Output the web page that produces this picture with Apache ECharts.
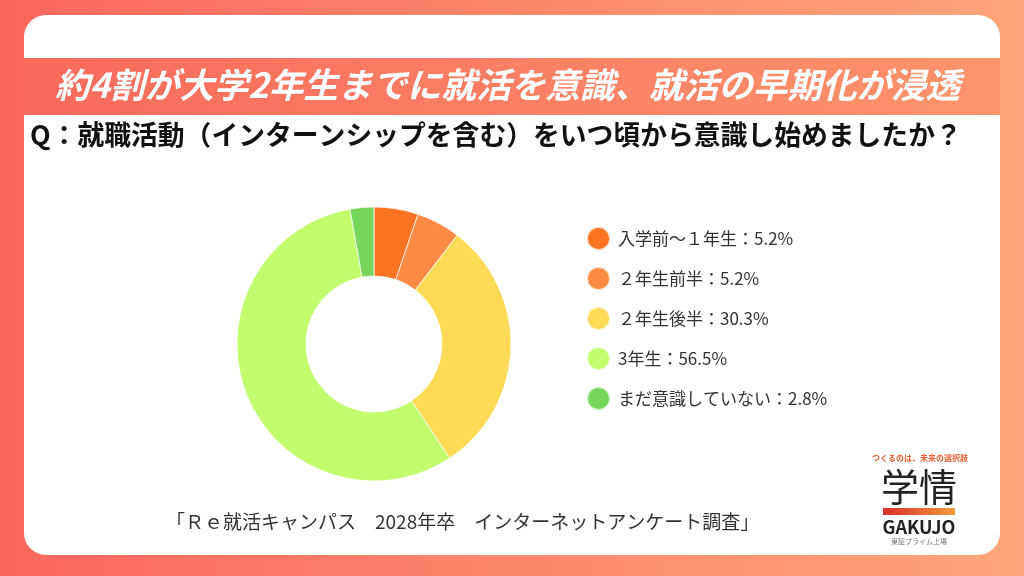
<!DOCTYPE html>
<html><head><meta charset="utf-8">
<script src="https://cdn.jsdelivr.net/npm/echarts@6/dist/echarts.min.js"></script>
<style>html,body{margin:0;padding:0;width:1024px;height:576px;overflow:hidden}#c{width:1024px;height:576px}</style>
</head><body><div id="c"></div>
<script>
const categories = ['入学前～１年生', '２年生前半', '２年生後半', '3年生', 'まだ意識していない'];
const values = [5.2, 5.2, 30.3, 56.5, 2.8];
const colors = ['#fc7321', '#fd8a45', '#fedb57', '#c2fd6e', '#76d65a'];
const titleText = '約4割が大学2年生までに就活を意識、就活の早期化が浸透';
const questionText = 'Q：就職活動（インターンシップを含む）をいつ頃から意識し始めましたか？';
const sourceText = '「Ｒｅ就活キャンパス　2028年卒　インターネットアンケート調査」';

const FONT = '"Noto Sans CJK JP", "Noto Sans", sans-serif';
const chart = echarts.init(document.getElementById('c'), null, {renderer: 'canvas'});
const grad = (c1, c2) => new echarts.graphic.LinearGradient(0, 0, 1, 0, [{offset: 0, color: c1}, {offset: 1, color: c2}]);
const ctext = (x, y, text, fill, font) => ({type: 'text', z: 5, style: {x: x, y: y, text: text, fill: fill, font: font, textAlign: 'center', textVerticalAlign: 'middle'}});

chart.setOption({
  animation: false,
  backgroundColor: grad('#fa675e', '#fea679'),
  color: colors,
  legend: {
    orient: 'vertical',
    left: 581,
    top: 221,
    icon: 'circle',
    itemWidth: 23,
    itemHeight: 23,
    itemGap: 15,
    data: categories,
    formatter: name => name + '：' + values[categories.indexOf(name)] + '%',
    textStyle: {fontFamily: FONT, fontSize: 17, color: '#333', lineHeight: 20, padding: [0, 0, 0, 3]},
    selectedMode: false
  },
  graphic: [
    {type: 'rect', z: -10, shape: {x: 24, y: 15, width: 976, height: 540, r: 22}, style: {fill: '#ffffff'}},
    {type: 'rect', z: -9, shape: {x: 24, y: 58, width: 976, height: 57}, style: {fill: grad('#f86a5c', '#fd946c')}},
    {type: 'text', z: 5, left: 55, top: 68, style: {text: titleText, fill: '#ffffff', font: 'italic bold 34.6px ' + FONT}},
    {type: 'text', z: 5, left: 30, top: 121, style: {text: questionText, fill: '#111111', font: 'bold 26.8px ' + FONT}},
    {type: 'text', z: 5, left: 166, top: 512, style: {text: sourceText, fill: '#333333', font: '19px ' + FONT}},
    ctext(920, 458, 'つくるのは、未来の選択肢', '#e8603a', 'bold 8px ' + FONT),
    ctext(919, 487, '学情', '#222222', '38px ' + FONT),
    {type: 'rect', z: 5, shape: {x: 883, y: 508, width: 72, height: 7}, style: {fill: grad('#d9302b', '#f39a3c')}},
    ctext(919, 527, 'GAKUJO', '#222222', 'bold 18px ' + FONT),
    ctext(919, 541, '東証プライム上場', '#777777', '7px ' + FONT)
  ],
  series: [{
    type: 'pie',
    center: [374, 344],
    radius: [68, 137],
    startAngle: 90,
    clockwise: true,
    label: {show: false},
    labelLine: {show: false},
    itemStyle: {borderColor: 'rgba(255,255,255,0.7)', borderWidth: 1},
    emphasis: {disabled: true},
    data: categories.map((n, i) => ({name: n, value: values[i]}))
  }]
});
</script></body></html>
